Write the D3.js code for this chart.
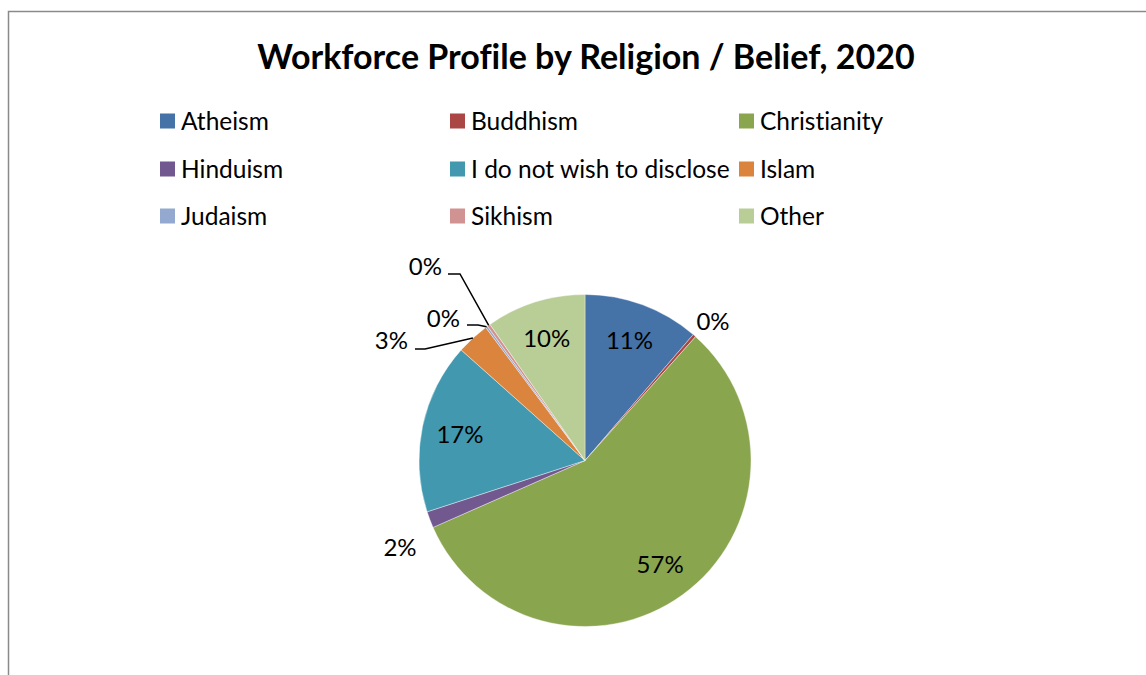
<!DOCTYPE html>
<html>
<head>
<meta charset="utf-8">
<script src="https://cdn.jsdelivr.net/npm/d3@7"></script>
<style>
  html, body { margin: 0; padding: 0; background: #fff; }
  svg { display: block; font-family: Lato, "Open Sans", sans-serif;
        font-variant-ligatures: none; font-feature-settings: "liga" 0, "clig" 0; }
</style>
</head>
<body>
<svg id="chart" width="1146" height="675"></svg>
<script>
// Workforce share by religion / belief (percent of staff)
const categories = ["Atheism", "Buddhism", "Christianity", "Hinduism",
  "I do not wish to disclose", "Islam", "Judaism", "Sikhism", "Other"];
const shares = [11.3, 0.3, 56.8, 1.6, 16.6, 3.2, 0.2, 0.3, 9.7];
const colors = ["#4572A7", "#AA4643", "#89A54E", "#71588F", "#4198AF",
  "#DB843D", "#93A9CF", "#D19392", "#B9CD96"];
const titleText = "Workforce Profile by Religion / Belief, 2020";

const svg = d3.select("#chart");
const W = 1146, H = 675;

// chart area frame
svg.append("rect")
  .attr("x", 8.5).attr("y", 11.5)
  .attr("width", W + 20).attr("height", H + 20)
  .attr("fill", "#fff").attr("stroke", "#8a8a8a").attr("stroke-width", 1.5);

// title
svg.append("text")
  .attr("x", 586).attr("y", 69)
  .attr("text-anchor", "middle")
  .attr("font-size", 34).attr("font-weight", 700).attr("fill", "#000")
  .text(titleText);

// legend: three columns, filled row by row
const legendCols = d3.scaleOrdinal().domain([0, 1, 2]).range([160, 450, 739]);
const legendRows = d3.scaleOrdinal().domain([0, 1, 2]).range([121, 169, 216]);
const legend = svg.append("g").selectAll("g")
  .data(categories)
  .join("g")
  .attr("transform", (d, i) => `translate(${legendCols(i % 3)},${legendRows(Math.floor(i / 3))})`);
legend.append("rect")
  .attr("x", 0).attr("y", -7.5).attr("width", 15).attr("height", 15)
  .attr("fill", (d, i) => colors[i]);
legend.append("text")
  .attr("x", 21).attr("y", 0).attr("dy", "0.36em")
  .attr("font-size", 24.5).attr("fill", "#000")
  .text(d => d);

// pie
const cx = 585, cy = 460.5, R = 166;
const data = categories.map((c, i) => ({ name: c, value: shares[i], color: colors[i] }));
const pie = d3.pie().value(d => d.value).sort(null);
const arcs = pie(data);
const arc = d3.arc().innerRadius(0).outerRadius(R);
const g = svg.append("g").attr("transform", `translate(${cx},${cy})`);

g.selectAll("path")
  .data(arcs)
  .join("path")
  .attr("d", arc)
  .attr("fill", d => d.data.color)
  .attr("stroke", "#fff").attr("stroke-width", 0.4);

const pct = v => `${Math.round(v)}%`;
const mid = d => (d.startAngle + d.endAngle) / 2;
const polar = (a, r) => [r * Math.sin(a), -r * Math.cos(a)];
const LABEL_SIZE = 24;

// label placement: inside for large slices; small slices get an outside
// label, and the crowded group on the upper left gets leader lines
const outside = {
  "Buddhism": { text: [128, -139.5], anchor: "middle" },
  "Hinduism": { text: [-185, 86.5], anchor: "middle" }
};
const callouts = {
  "Islam":   { elbow: [-160, -111.5], lineEnd: -170, text: [-177, -120] },
  "Judaism": { elbow: [-107, -135.5], lineEnd: -118, text: [-125, -142.5] },
  "Sikhism": { elbow: [-125, -186.5], lineEnd: -137, text: [-143, -194] }
};

const labels = g.append("g");
arcs.forEach(d => {
  const a = mid(d);
  const name = d.data.name;
  const txt = pct(d.data.value);
  if (callouts[name]) {
    const c = callouts[name];
    labels.append("path")
      .attr("d", d3.line()([polar(a, R), c.elbow, [c.lineEnd, c.elbow[1]]]))
      .attr("fill", "none").attr("stroke", "#000").attr("stroke-width", 1.5);
    labels.append("text")
      .attr("x", c.text[0]).attr("y", c.text[1]).attr("dy", "0.36em")
      .attr("text-anchor", "end").attr("font-size", LABEL_SIZE).text(txt);
  } else if (outside[name]) {
    const o = outside[name];
    labels.append("text")
      .attr("x", o.text[0]).attr("y", o.text[1]).attr("dy", "0.36em")
      .attr("text-anchor", o.anchor).attr("font-size", LABEL_SIZE).text(txt);
  } else {
    const [x, y] = polar(a, R * 0.77);
    labels.append("text")
      .attr("x", x).attr("y", y).attr("dy", "0.36em")
      .attr("text-anchor", "middle").attr("font-size", LABEL_SIZE).text(txt);
  }
});
</script>
</body>
</html>
